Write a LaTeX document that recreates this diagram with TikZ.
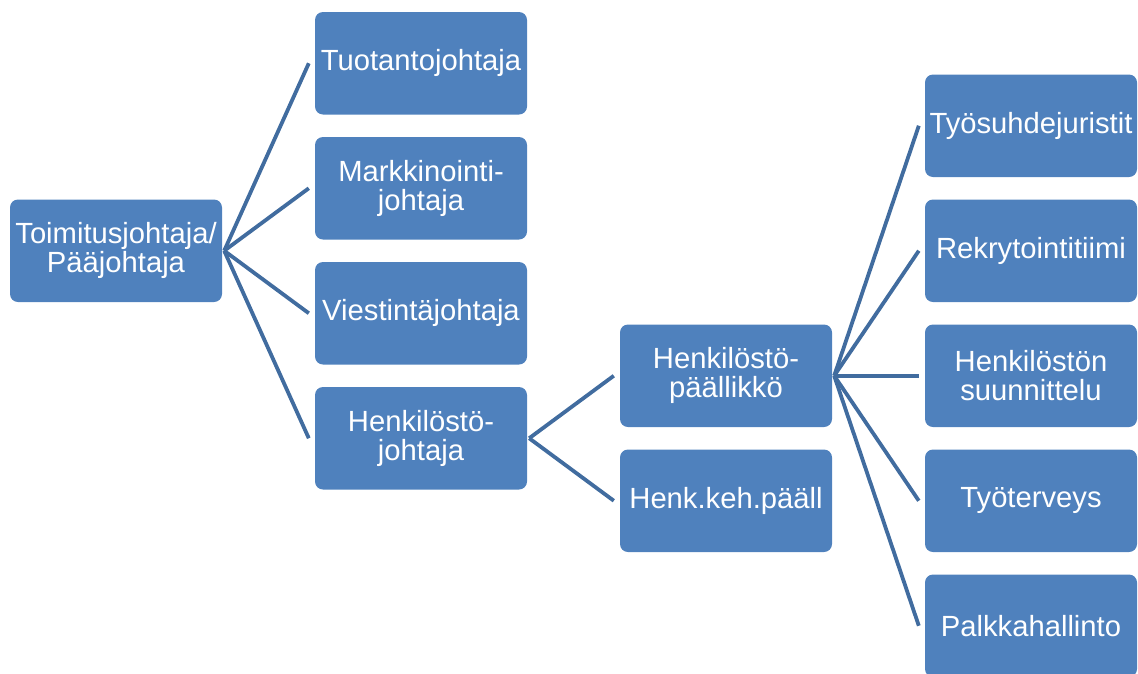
\documentclass[tikz,border=0pt]{standalone}
\usepackage{fontspec}
\setmainfont{Liberation Sans}
\definecolor{boxblue}{HTML}{4F81BD}
\definecolor{linkblue}{HTML}{416C9F}
\begin{document}
\begin{tikzpicture}[x=1pt,y=-1pt,
  box/.style={draw=none,fill=boxblue,rounded corners=8pt,minimum width=212pt,minimum height=102.5pt,
    inner sep=0pt,text=white,align=center,font=\fontsize{29.2}{29}\selectfont},
  conn/.style={draw=linkblue,line width=3.8pt}]
\useasboundingbox (0,0) rectangle (1138,673);
\clip (0,0) rectangle (1138,673);
% root
\node[box] (root) at (116,250.75) {Toimitusjohtaja/\\Pääjohtaja};
% level 1
\node[box] (tuo) at (421,63.25) {Tuotantojohtaja};
\node[box] (mar) at (421,188.25) {Markkinointi-\\johtaja};
\node[box] (vie) at (421,313.25) {Viestintäjohtaja};
\node[box] (hjo) at (421,438.25) {Henkilöstö-\\johtaja};
% level 2
\node[box] (hpa) at (726,375.75) {Henkilöstö-\\päällikkö};
\node[box] (hkp) at (726,500.75) {Henk.keh.pääll};
% level 3
\node[box] (tyj) at (1031,125.75) {Työsuhdejuristit};
\node[box] (rek) at (1031,250.75) {Rekrytointitiimi};
\node[box] (hsu) at (1031,375.75) {Henkilöstön\\suunnittelu};
\node[box] (tyt) at (1031,500.75) {Työterveys};
\node[box] (pal) at (1031,625.75) {Palkkahallinto};
% connectors
\foreach \c in {tuo,mar,vie,hjo}
  \draw[conn] ([xshift=2pt]root.east) -- ([xshift=-6pt]\c.west);
\foreach \c in {hpa,hkp}
  \draw[conn] ([xshift=2pt]hjo.east) -- ([xshift=-6pt]\c.west);
\foreach \c in {tyj,rek,hsu,tyt,pal}
  \draw[conn] ([xshift=2pt]hpa.east) -- ([xshift=-6pt]\c.west);
\end{tikzpicture}
\end{document}
